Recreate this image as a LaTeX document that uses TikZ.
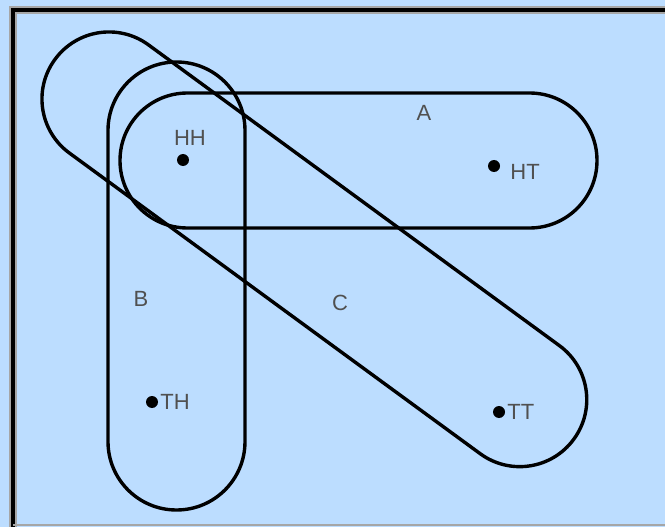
\documentclass[tikz,border=0pt]{standalone}
\usepackage{fontspec}
\setmainfont{Liberation Sans}
\usetikzlibrary{positioning}
\definecolor{skyback}{RGB}{188,221,255}
\definecolor{labelgray}{RGB}{80,80,80}

\begin{document}
\begin{tikzpicture}[x=1pt,y=-1pt,
  every node/.style={font=\fontsize{22}{22}\selectfont,text=labelgray,inner sep=1pt},
  outcome/.style={circle,fill=black,inner sep=0pt,minimum size=12pt},
  setline/.style={draw=black,line width=3.4pt}]
\useasboundingbox (0,0) rectangle (665,527);
\fill[skyback] (0,0) rectangle (665,527);
% frame
\draw[gray!70,line width=8pt] (13,527) -- (13,10) -- (665,10);
\draw[line width=3.5pt] (13,527) -- (13,10) -- (665,10);
\draw[gray!70,line width=2pt] (13,525) -- (665,525);
% the three events
\draw[setline,rounded corners=67.4pt] (120,93) rectangle (597,228);
\draw[setline,rounded corners=68.4pt] (108,62) rectangle (245,510);
\begin{scope}[shift={(109,99)},rotate=-36.2]
\draw[setline,rounded corners=66.9pt] (-67,-67) rectangle (576,67);
\end{scope}
% outcomes
\node[outcome] (hh) at (183,160) {};
\node[outcome] (ht) at (494,166) {};
\node[outcome] (th) at (152,402) {};
\node[outcome] (tt) at (499,412) {};
\node[above=7pt of hh,xshift=7pt] (hhtext) {HH};
\node[right=9pt of ht,yshift=-6pt] (httext) {HT};
\node[right=1pt of th] (thtext) {TH};
\node[right=1pt of tt] (tttext) {TT};
% event names
\node (evA) at (424,113) {A};
\node (evB) at (141,299) {B};
\node (evC) at (340,303) {C};
\end{tikzpicture}
\end{document}
